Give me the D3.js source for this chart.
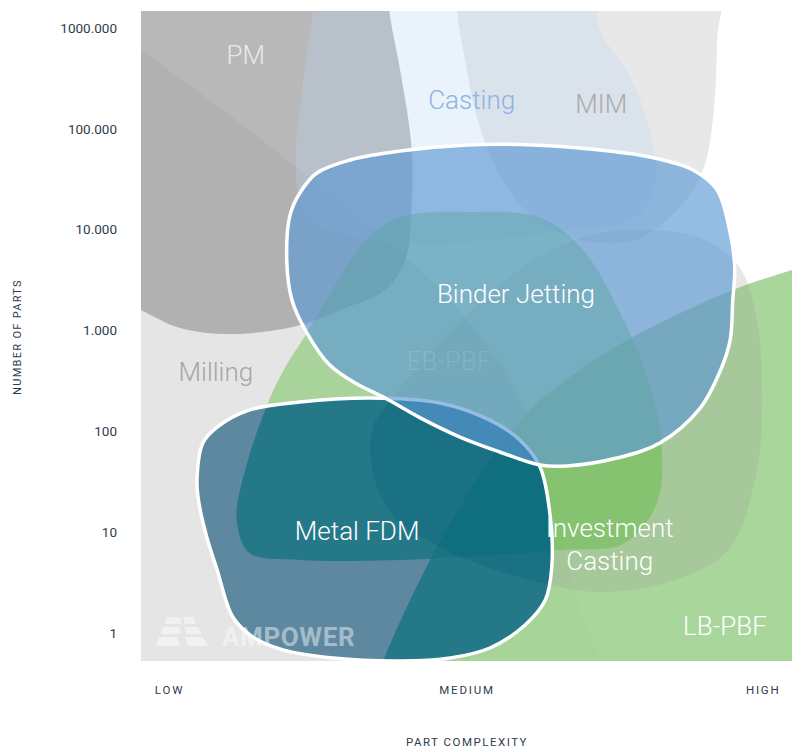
<!DOCTYPE html>
<html><head><meta charset="utf-8">
<script src="https://cdn.jsdelivr.net/npm/d3@7"></script>
<style>
html,body{margin:0;padding:0;background:#fff;}
svg{display:block;font-family:Roboto,"Noto Sans",sans-serif;}
</style></head><body>
<svg id="chart" width="811" height="752"></svg>
<script>
// ---------- data ----------
const yTickValues = [1, 10, 100, 1000, 10000, 100000, 1000000];
const yTickLabels = ["1", "10", "100", "1.000", "10.000", "100.000", "1000.000"];
const xTickValues = [0.043, 0.5, 0.955];
const xTickLabels = ["LOW", "MEDIUM", "HIGH"];

// region outlines: [part complexity (0..1), number of parts]
const milling = [[-0.063,1.2e6],[0,6.05e5],[0.121,1.61e5],[0.244,3.91e4],[0.367,8.85e3],[0.475,2.0e3],[0.567,323],[0.628,41.3],[0.656,5.3],[0.677,1.51],[0.713,0.216],[-0.063,0.216]];
const pm = [[-0.032,4.7e6],[0.375,4.7e6],[0.381,1.51e6],[0.398,3.83e5],[0.415,7.23e4],[0.416,1.97e4],[0.406,5.0e3],[0.375,2.52e3],[0.306,1.6e3],[0.244,1.13e3],[0.141,922],[0.060,1.06e3],[0,1.6e3],[-0.063,2.52e3]];
const mim = [[0.482,4.7e6],[0.485,1.51e6],[0.498,4.82e5],[0.513,1.54e5],[0.547,3.91e4],[0.598,1.40e4],[0.674,7.89e3],[0.767,8.26e3],[0.843,2.21e4],[0.866,4.38e4],[0.880,1.54e5],[0.885,7.6e5],[0.886,4.7e6]];
const casting = [[0.272,4.7e6],[0.264,1.51e6],[0.249,3.05e5],[0.238,6.17e4],[0.244,1.97e4],[0.270,1.11e4],[0.352,7.89e3],[0.444,7.21e3],[0.551,8.07e3],[0.667,1.01e4],[0.759,1.31e4],[0.790,2.77e4],[0.785,7.75e4],[0.754,3.05e5],[0.705,9.55e5],[0.682,4.7e6]];
const lbpbf = [[0.352,0.216],[0.372,0.527],[0.444,5.3],[0.521,36.9],[0.593,152],[0.674,405],[0.767,944],[0.909,2.52e3],[1.0,3.98e3],[1.089,6.0e3],[1.089,0.216]];
const investment = [[0.674,8.26e3],[0.756,9.93e3],[0.859,8.26e3],[0.920,4.17e3],[0.946,1.27e3],[0.954,205],[0.946,41.3],[0.902,6.65],[0.805,3.13],[0.705,2.55],[0.624,3.05],[0.531,4.51],[0.459,7.13],[0.393,13.2],[0.359,32.9],[0.355,103],[0.386,214],[0.505,1.52e3],[0.598,4.78e3]];
const ebpbf = [[0.253,902],[0.316,4.26e3],[0.356,9.27e3],[0.398,1.34e4],[0.505,1.50e4],[0.613,1.31e4],[0.679,6.28e3],[0.736,1.49e3],[0.774,405],[0.797,103],[0.794,20.8],[0.743,7.80],[0.644,6.65],[0.521,5.80],[0.398,5.30],[0.244,5.30],[0.167,6.21],[0.147,13.2],[0.160,41.3],[0.195,191],[0.221,425]];
const metalFdm = [[0.086,32.9],[0.095,76.6],[0.117,110],[0.167,163],[0.244,195],[0.352,214],[0.459,191],[0.536,129],[0.582,82.0],[0.613,44.3],[0.628,15.5],[0.631,4.51],[0.621,2.12],[0.590,1.20],[0.536,0.71],[0.475,0.565],[0.398,0.527],[0.295,0.565],[0.218,0.68],[0.172,0.91],[0.141,1.44],[0.117,4.21],[0.101,8.95],[0.089,19.4]];
const binderJetting = [[0.224,4.78e3],[0.229,1.40e4],[0.244,2.31e4],[0.270,3.65e4],[0.321,4.91e4],[0.398,6.03e4],[0.501,6.92e4],[0.602,6.92e4],[0.705,6.17e4],[0.782,5.26e4],[0.848,3.91e4],[0.885,2.47e4],[0.905,9.27e3],[0.912,4.26e3],[0.909,2.0e3],[0.905,804],[0.889,387],[0.859,170],[0.797,76.6],[0.731,54.3],[0.654,45.3],[0.613,46.3],[0.551,62.4],[0.490,87.7],[0.429,136],[0.375,214],[0.329,301],[0.290,454],[0.255,944],[0.232,2.0e3]];

const labelNames = ["PM","Casting","MIM","Milling","Binder Jetting","EB-PBF","Metal FDM","Investment","Casting","LB-PBF"];
const labelComplexity = [0.161,0.508,0.707,0.115,0.576,0.473,0.332,0.720,0.720,0.897];
const labelParts = [4.4e5,1.57e5,1.44e5,315,1.87e3,405,8.4,8.95,4.21,0.955];

// ---------- layout ----------
const plot = {left:141, right:792, top:11, bottom:661};
const svg = d3.select("#chart");
const x = d3.scaleLinear().domain([0,1]).range([plot.left, plot.right]);
const y = d3.scaleLog().domain([0.5276, 1.474e6]).range([plot.bottom, plot.top]);
const line = d3.line().x(d => x(d[0])).y(d => y(d[1])).curve(d3.curveCatmullRomClosed.alpha(0.5));

const defs = svg.append("defs");
defs.append("clipPath").attr("id","plotClip").append("rect")
  .attr("x",plot.left).attr("y",plot.top).attr("width",plot.right-plot.left).attr("height",plot.bottom-plot.top);
defs.append("clipPath").attr("id","fdmClip").append("path").attr("d", line(metalFdm));

const g = svg.append("g").attr("clip-path","url(#plotClip)");

const layers = [
  {pts: milling, fill:"rgb(229,229,229)", op:1},
  {pts: pm, fill:"rgb(158,158,158)", op:0.73},
  {pts: mim, fill:"rgb(232,232,232)", op:1},
  {pts: casting, fill:"rgb(187,213,242)", op:0.3},
  {pts: lbpbf, fill:"rgb(162,211,147)", op:0.92},
  {pts: investment, fill:"rgb(160,160,150)", op:0.25},
  {pts: ebpbf, fill:"rgb(93,189,62)", op:0.45}
];
g.selectAll("path.layer").data(layers).join("path").attr("class","layer")
  .attr("d", d => line(d.pts)).attr("fill", d => d.fill).attr("fill-opacity", d => d.op);

// Metal FDM
g.append("path").attr("d", line(metalFdm)).attr("fill","rgb(94,136,160)");
const fdmIn = g.append("g").attr("clip-path","url(#fdmClip)");
const overlays = [
  {pts: ebpbf, fill:"rgb(20,115,130)", op:0.78},
  {pts: lbpbf, fill:"rgb(20,115,130)", op:0.78},
  {pts: investment, fill:"rgb(0,100,120)", op:0.3}
];
fdmIn.selectAll("path").data(overlays).join("path")
  .attr("d", d => line(d.pts)).attr("fill", d => d.fill).attr("fill-opacity", d => d.op);
g.append("path").attr("d", line(metalFdm)).attr("fill","none").attr("stroke","#fff").attr("stroke-width",3.5);

// Binder Jetting
g.append("path").attr("d", line(binderJetting)).attr("fill","rgb(92,152,212)").attr("fill-opacity",0.65)
  .attr("stroke","#fff").attr("stroke-width",3.5);

// watermark
const wm = svg.append("g").attr("transform",`translate(${plot.left+17},${plot.bottom-15})`).attr("fill","#fff").attr("fill-opacity",0.45);
const icon = [
  [[9,-29],[22,-29],[24,-22],[7,-22]],
  [[25,-29],[35,-29],[38,-22],[27,-22]],
  [[5,-19],[21,-19],[23,-12],[3,-12]],
  [[26,-19],[40,-19],[44,-12],[28,-12]],
  [[1,-9],[20,-9],[22,0],[-2,0]],
  [[27,-9],[45,-9],[50,0],[30,0]]
];
wm.selectAll("polygon").data(icon).join("polygon").attr("points", d => d.map(p => p.join(",")).join(" "));
wm.append("text").attr("x",64).attr("y",0).attr("font-size",26).attr("font-weight",700).attr("letter-spacing",0.6).text("AMPOWER");

// region labels
const labelFill = ["#e9e9e9","#8db3e3","#ababab","#a6a6a6","#ffffff","rgba(255,255,255,0.13)","#ffffff","#ffffff","#ffffff","#ffffff"];
svg.append("g").selectAll("text").data(labelNames).join("text")
  .attr("x",(d,i)=>x(labelComplexity[i])).attr("y",(d,i)=>y(labelParts[i]))
  .attr("text-anchor","middle").attr("font-size",26).attr("font-weight",300)
  .attr("fill",(d,i)=>labelFill[i]).text(d=>d);

// axes
const yAxis = d3.axisLeft(y).tickValues(yTickValues).tickFormat((d,i)=>yTickLabels[i]).tickSize(0).tickPadding(24);
const ya = svg.append("g").attr("transform",`translate(${plot.left},0)`).call(yAxis);
ya.select(".domain").remove();
ya.selectAll("text").attr("font-size",13.5).attr("fill","#2f3c4e").attr("font-family","Roboto,sans-serif");

const xAxis = d3.axisBottom(x).tickValues(xTickValues).tickFormat((d,i)=>xTickLabels[i]).tickSize(0).tickPadding(25);
const xa = svg.append("g").attr("transform",`translate(0,${plot.bottom})`).call(xAxis);
xa.select(".domain").remove();
xa.selectAll("text").attr("font-size",11.5).attr("letter-spacing",1.8).attr("fill","#2f3c4e").attr("font-family","Roboto,sans-serif");

svg.append("text").attr("x",467).attr("y",746).attr("text-anchor","middle").attr("font-size",11.5)
  .attr("letter-spacing",1.5).attr("fill","#2f3c4e").text("PART COMPLEXITY");
svg.append("text").attr("transform","translate(21,337) rotate(-90)").attr("text-anchor","middle").attr("font-size",11)
  .attr("letter-spacing",1.3).attr("fill","#2f3c4e").text("NUMBER OF PARTS");
</script>
</body></html>
